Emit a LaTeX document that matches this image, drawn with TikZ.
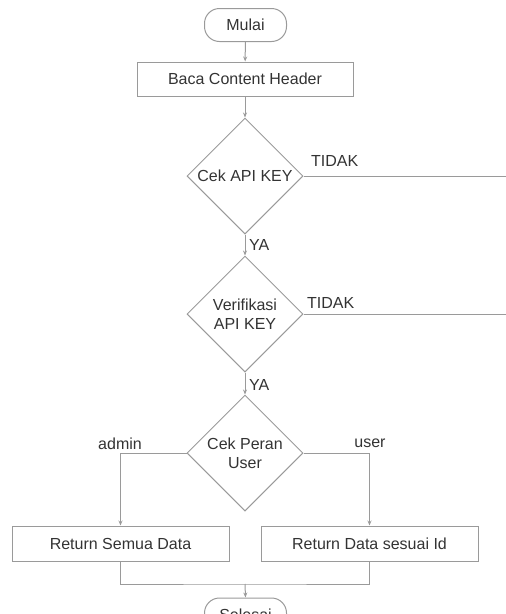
\documentclass[tikz,border=0pt]{standalone}
\usepackage{fontspec}
\setmainfont{Liberation Sans}
\usetikzlibrary{shapes.geometric,arrows.meta}
\definecolor{ln}{HTML}{9A9A9A}
\definecolor{tx}{HTML}{333333}
\begin{document}
\begin{tikzpicture}[x=1pt,y=-1pt,
  every node/.style={font=\fontsize{16}{19}\selectfont, text=tx},
  box/.style={draw=ln, line width=1pt, rectangle, inner sep=0pt, minimum height=34pt},
  term/.style={draw=ln, line width=1pt, rectangle, rounded corners=15pt, inner sep=0pt, minimum width=82pt, minimum height=33pt},
  dec/.style={draw=ln, line width=1pt, diamond, inner sep=0pt, minimum width=116pt, minimum height=116pt, align=center},
  conn/.style={draw=ln, line width=1pt},
  arr/.style={conn, -{Stealth[length=5pt,width=4pt]}},
  lbl/.style={inner sep=0pt}]
\useasboundingbox (0,0) rectangle (506,614);

\node[term] (start) at (245.5,25) {Mulai};
\node[box, minimum width=216pt] (baca) at (245,79) {Baca Content Header};
\node[dec] (d1) at (245,176) {Cek API KEY};
\node[dec] (d2) at (245,314) {Verifikasi\\API KEY};
\node[dec] (d3) at (245,453) {Cek Peran\\User};
\node[box, minimum width=217pt, minimum height=35pt] (ra) at (120.5,543.5) {Return Semua Data};
\node[box, minimum width=217pt, minimum height=35pt] (ru) at (369.5,543.5) {Return Data sesuai Id};
\node[term] (end) at (245.5,614.5) {Selesai};

\coordinate (t1) at (506,176);
\coordinate (t2) at (506,314);
\coordinate (m) at (245,584);

\draw[arr] (start) -- (baca);
\draw[arr] (baca) -- (d1);
\draw[arr] (d1) -- (d2);
\draw[arr] (d2) -- (d3);
\draw[conn] (d1.east) -- (t1);
\draw[conn] (d2.east) -- (t2);
\draw[arr] (d3.west) -| (ra.north);
\draw[arr] (d3.east) -| (ru.north);
\draw[conn] (ra.south) |- (m) -| (ru.south);
\draw[arr] (m) -- (end.north);

\node[lbl, anchor=west] (ya1) at (249,245) {YA};
\node[lbl, anchor=west] (ya2) at (249,385) {YA};
\node[lbl, anchor=west] (no1) at (311,161) {TIDAK};
\node[lbl, anchor=west] (no2) at (307,303) {TIDAK};
\node[lbl] (adm) at (120,444) {admin};
\node[lbl] (usr) at (370,443) {user};
\end{tikzpicture}
\end{document}
